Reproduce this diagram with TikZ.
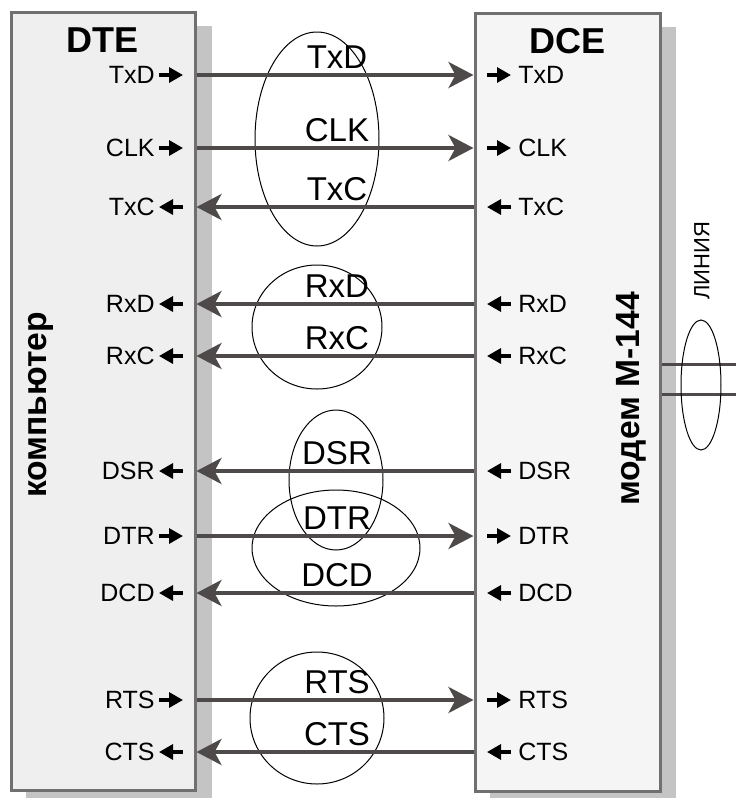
\documentclass[tikz,border=0pt]{standalone}
\usepackage{fontspec}
\setmainfont{Liberation Sans}
\usetikzlibrary{shapes.geometric, arrows.meta, positioning, calc}

\definecolor{wiregray}{RGB}{77,74,73}
\definecolor{boxedge}{RGB}{112,112,112}
\definecolor{shadowgray}{RGB}{196,196,196}
\definecolor{dtefill}{RGB}{239,239,239}
\definecolor{dcefill}{RGB}{245,245,245}

\tikzset{
  unitbox/.style={draw=boxedge, line width=1.5pt, inner sep=0pt, minimum width=92pt, minimum height=389pt},
  wire/.style={draw=wiregray, line width=2pt, -{Stealth[length=12.5pt, width=13pt, inset=3.5pt]}},
  pinarrow/.style={line width=1.6pt, -{Triangle[length=7pt, width=7.5pt]}},
  pinlabel/.style={inner sep=0pt, font=\fontsize{12.5}{14}\selectfont},
  signame/.style={inner sep=0pt, anchor=south, font=\fontsize{16.5}{18}\selectfont},
  group/.style={draw, ellipse, line width=0.5pt, inner sep=0pt},
  title/.style={font=\bfseries\fontsize{18}{20}\selectfont},
  sidetitle/.style={rotate=90, font=\bfseries\fontsize{16.8}{18}\selectfont}
}

\begin{document}
\begin{tikzpicture}[x=0.5pt, y=-0.5pt]
  \useasboundingbox (0,0) rectangle (736,800);

  % shadows behind the two units
  \fill[shadowgray] (26,26) rectangle (212,798);
  \fill[shadowgray] (490,27) rectangle (676,798);

  \node[unitbox, fill=dtefill] (dte) at (103,401) {};
  \node[unitbox, fill=dcefill, minimum width=92.5pt] (dce) at (567.5,402) {};

  \node[title] (dtetitle) at (103,40) {DTE};
  \node[title] (dcetitle) at (568,41) {DCE};
  \node[sidetitle] (pc) at (41,405) {компьютер};
  \node[sidetitle] (modem) at (631,399) {модем М-144};

  % signal groups
  \node[group, minimum width=62pt, minimum height=107pt] (gtx) at (317,139) {};
  \node[group, minimum width=65pt, minimum height=62pt] (grx) at (317,327) {};
  \node[group, minimum width=47pt, minimum height=70pt] (gdsr) at (336,480) {};
  \node[group, minimum width=84pt, minimum height=58pt] (gdcd) at (336,548) {};
  \node[group, minimum width=67pt, minimum height=66pt] (grts) at (317,718) {};

  % 1 = from DTE to DCE, 0 = from DCE to DTE
  \foreach \sig/\yy/\dir in {TxD/75/1, CLK/148/1, TxC/207/0, RxD/304/0, RxC/356/0,
                             DSR/471/0, DTR/536/1, DCD/593/0, RTS/700/1, CTS/752/0} {
    \node[pinlabel, anchor=east] (l\sig) at (155,\yy) {\sig};
    \node[pinlabel, anchor=west] (r\sig) at (518,\yy) {\sig};
    \node[signame] (m\sig) at (337,\yy-6) {\sig};
    \ifnum\dir=1
      \draw[wire] (dte.east |- l\sig) -- (dce.west |- r\sig);
      \draw[pinarrow] ([xshift=2pt]l\sig.east) -- ([xshift=14pt]l\sig.east);
      \draw[pinarrow] ([xshift=-15.5pt]r\sig.west) -- ([xshift=-3.5pt]r\sig.west);
    \else
      \draw[wire] (dce.west |- r\sig) -- (dte.east |- l\sig);
      \draw[pinarrow] ([xshift=14pt]l\sig.east) -- ([xshift=2pt]l\sig.east);
      \draw[pinarrow] ([xshift=-3.5pt]r\sig.west) -- ([xshift=-15.5pt]r\sig.west);
    \fi
  }

  % line to the modem
  \coordinate (lineA) at (736,364);
  \coordinate (lineB) at (736,394);
  \draw[wiregray, line width=1.5pt] (dce.east |- lineA) -- (lineA);
  \draw[wiregray, line width=1.5pt] (dce.east |- lineB) -- (lineB);
  \node[group, minimum width=20pt, minimum height=65pt] (bundle) at (701,385) {};
  \node[rotate=90, font=\fontsize{11}{13}\selectfont] (line) at (702,261) {ЛИНИЯ};
\end{tikzpicture}
\end{document}
